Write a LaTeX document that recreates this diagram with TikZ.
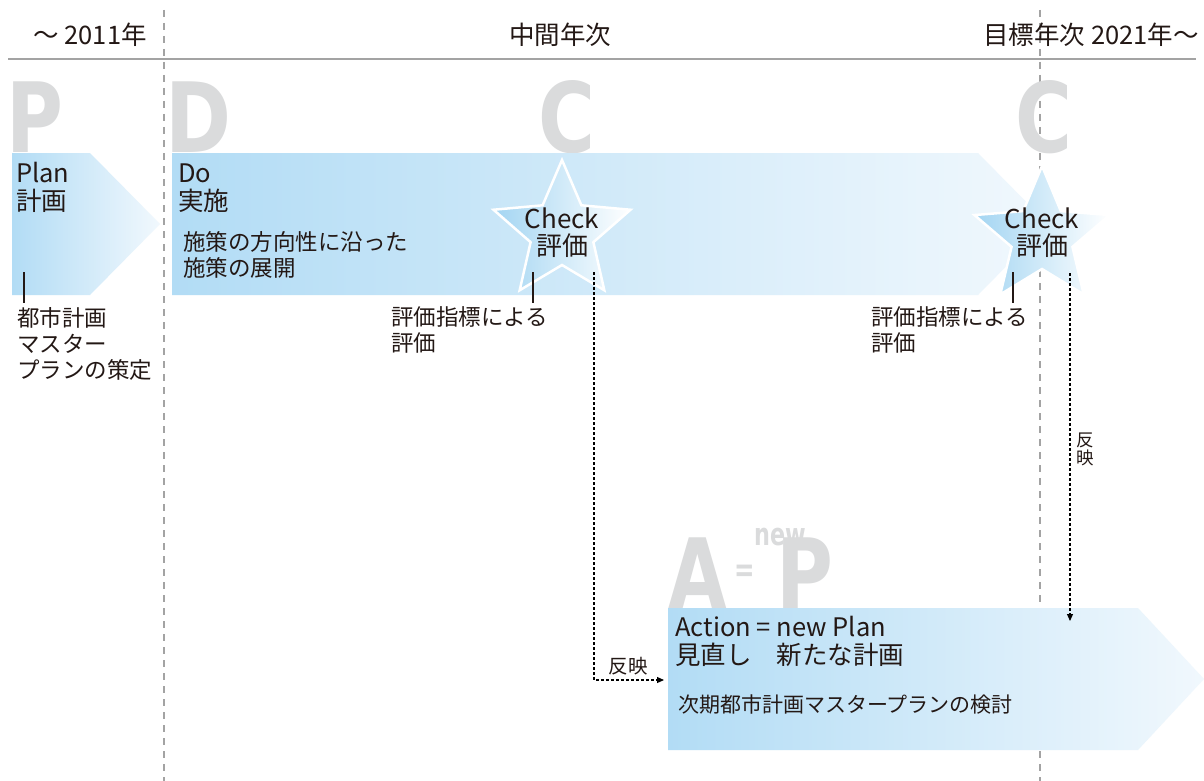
\documentclass[tikz,border=0pt]{standalone}
\usepackage{fontspec}
\setmainfont{Noto Sans CJK JP}
\newfontfamily\bigfont{DejaVu Sans}
\usetikzlibrary{arrows.meta}
\definecolor{ink}{HTML}{231815}
\definecolor{gridgray}{HTML}{A3A3A3}
\definecolor{letgray}{HTML}{DADBDC}
\definecolor{bluel}{HTML}{B2DCF5}
\definecolor{bluer}{HTML}{F1F8FD}
\definecolor{starl}{HTML}{A3D5F2}
\tikzset{
  gridline/.style={draw=gridgray, line width=2pt},
  vdash/.style={gridline, dash pattern=on 7pt off 6pt},
  bigl/.style={font=\bigfont\bfseries\fontsize{97}{97}\selectfont, text=letgray, inner sep=0pt, anchor=base west},
  arrowband/.style={left color=bluel, right color=bluer, draw=none},
  starfill/.style={left color=starl, right color=white, draw=white, line width=2.5pt, line join=miter},
  lbl/.style={inner sep=0pt, align=left, text=ink, anchor=base west},
  bigtxt/.style={lbl, font=\fontsize{25.5}{27.5}\selectfont},
  smtxt/.style={lbl, font=\fontsize{22.5}{26}\selectfont},
  hdtxt/.style={inner sep=0pt, text=ink, font=\fontsize{25.5}{26}\selectfont},
  checktxt/.style={inner sep=0pt, align=center, text=ink, anchor=base, font=\fontsize{26}{27}\selectfont},
  tick/.style={draw=ink, line width=1.3pt},
  refl/.style={draw=black, line width=1.1pt, dash pattern=on 3pt off 2pt, -{Triangle[length=7pt,width=6pt]}},
  pics/pstar/.style 2 args={code={
    \path[starfill] (90:#1) -- (126:#2) -- (162:#1) -- (198:#2) -- (234:#1) -- (270:#2)
      -- (306:#1) -- (342:#2) -- (18:#1) -- (54:#2) -- cycle;}}
}
\begin{document}
\begin{tikzpicture}[x=1pt,y=-1pt]
\useasboundingbox[fill=white] (0,0) rectangle (1204,781);

% grid lines
\coordinate (g1t) at (164,10); \coordinate (g1b) at (164,781);
\coordinate (g2t) at (1040,10); \coordinate (g2b) at (1040,781);
\coordinate (hl) at (8,59); \coordinate (hr) at (1196,59);
\draw[vdash] (g2t) -- (g2b);
\draw[gridline] (hl) -- (hr);

% headers
\node[hdtxt, anchor=base east] (h1) at (147,45) {〜 2011年};
\node[hdtxt, anchor=base] (h2) at (560,45) {中間年次};
\node[hdtxt, anchor=base east] (h3) at (1199,45) {目標年次 2021年〜};

% big letters
\node[bigl] (bP) at (6,152) {\scalebox{0.8}[1]{P}};
\node[bigl] (bD) at (165,152) {\scalebox{0.82}[1]{D}};
\node[bigl] (bC1) at (538,153) {\scalebox{0.8}[1]{C}};
\node[bigl] (bC2) at (1015,153) {\scalebox{0.8}[1]{C}};
\node[bigl] (bA) at (668,608) {\scalebox{0.78}[1]{A}};
\node[bigl] (bP2) at (776,608) {\scalebox{0.8}[1]{P}};
\node[bigl, font=\bigfont\bfseries\fontsize{31}{31}\selectfont, anchor=base west] (bnew) at (754,545) {\scalebox{0.72}[1]{new}};
\node[bigl, font=\bigfont\bfseries\fontsize{34}{34}\selectfont, anchor=center] (beq) at (745,573) {\scalebox{0.72}[1]{=}};

% arrow bands
\path[arrowband] (12,153) -- (90,153) -- (160,224) -- (90,295) -- (12,295) -- cycle;
\path[arrowband] (172,153) -- (978,153) -- (1048,224) -- (978,295) -- (172,295) -- cycle;
\path[arrowband] (668,608) -- (1138,608) -- (1204,679) -- (1138,750) -- (668,750) -- cycle;

\draw[vdash] (g1t) -- (g1b);

% stars
\pic at (562,232) {pstar={72pt}{33pt}};
\pic at (1042,237) {pstar={71pt}{32pt}};
\node[checktxt] (s1) at (562,255) {Check\\評価};
\node[checktxt] (s2) at (1042,255) {Check\\評価};

% texts
\node[bigtxt] (plan) at (16,210) {Plan\\計画};
\node[bigtxt] (do) at (178,210) {Do\\実施};
\node[smtxt] (dotx) at (183,276) {施策の方向性に沿った\\施策の展開};
\node[smtxt] (plantx) at (17,378) {都市計画\\マスター\\プランの策定};
\node[smtxt] (ev1) at (391,351) {評価指標による\\評価};
\node[smtxt] (ev2) at (871,351) {評価指標による\\評価};
\node[bigtxt] (act) at (675,664) {Action = new Plan\\\makebox[0pt][l]{見直し}\phantom{Action = }新たな計画};
\node[lbl, font=\fontsize{21}{24}\selectfont] (acttx) at (678,712) {次期都市計画マスタープランの検討};
\node[lbl, font=\fontsize{19.5}{20}\selectfont, anchor=base] (rf1) at (628,673) {反映};
\node[inner sep=0pt, align=center, text=ink, anchor=base, font=\fontsize{17.5}{18}\selectfont] (rf2) at (1085,464) {反\\映};

% ticks
\coordinate (tp1) at (24,272); \coordinate (tp2) at (24,303);
\coordinate (ts1a) at (533,272); \coordinate (ts1b) at (533,303);
\coordinate (ts2a) at (1013,272); \coordinate (ts2b) at (1013,303);
\draw[tick] (tp1) -- (tp2);
\draw[tick] (ts1a) -- (ts1b);
\draw[tick] (ts2a) -- (ts2b);

% reflection connectors
\coordinate (r1a) at (594,272); \coordinate (r1b) at (664,680);
\coordinate (r2a) at (1070,273); \coordinate (r2b) at (1070,621);
\draw[refl] (r1a) |- (r1b);
\draw[refl] (r2a) -- (r2b);
\end{tikzpicture}
\end{document}
